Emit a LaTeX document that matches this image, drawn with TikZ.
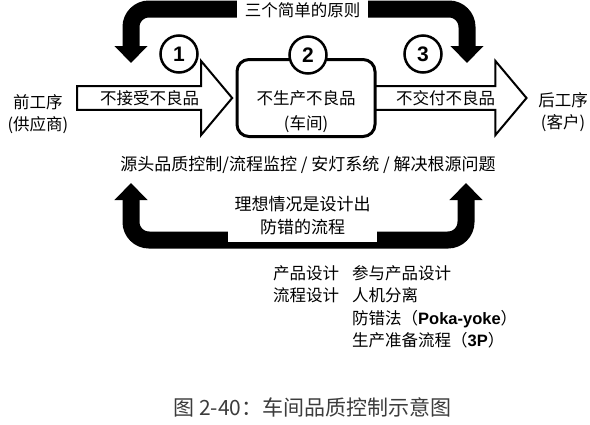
\documentclass[tikz,border=0pt]{standalone}
\usepackage{fontspec}
\setmainfont{Noto Sans CJK SC}
\newfontfamily\arialfont{Liberation Sans}
\usetikzlibrary{shapes.arrows, arrows.meta, positioning, backgrounds}
\definecolor{capgray}{RGB}{60,60,60}

\begin{document}
\begin{tikzpicture}[x=1pt, y=-1pt,
        % styles
        lbl/.style={font=\fontsize{16.5}{22}\selectfont, inner sep=0pt, align=center},
        flowarrow/.style={single arrow, draw, line width=2pt, fill=white,
            minimum width=74pt, single arrow head extend=18.5pt,
            single arrow tip angle=100, inner sep=0pt, lbl},
        numcircle/.style={circle, draw, line width=2.5pt, fill=white,
            minimum size=37pt, inner sep=0pt,
            font=\arialfont\bfseries\fontsize{21}{21}\selectfont},
        shopbox/.style={draw, line width=3pt, rounded corners=12pt, fill=white,
            minimum width=138pt, minimum height=77pt},
        bigarrow/.style={line width=17pt, rounded corners=18pt,
            {Triangle[width=32pt,length=17pt]}-{Triangle[width=32pt,length=17pt]}},
        whitebox/.style={lbl, fill=white},
        listtext/.style={font=\fontsize{16.5}{22.5}\selectfont, inner sep=0pt, align=left}
    ]
    \useasboundingbox (0,0) rectangle (590,424);

    % big black arrows
    \coordinate (topL) at (131,63);
    \coordinate (topR) at (467,63);
    \draw[bigarrow] (topL) -- ++(0,-54) -| (topR);
    \node[whitebox, minimum width=131pt, minimum height=20pt] (principles) at (302.5,10) {三个简单的原则};

    \coordinate (botL) at (131,183);
    \coordinate (botR) at (466,183);
    \draw[bigarrow] (botL) -- ++(0,57) -| (botR);
    \node[whitebox, minimum width=149pt, minimum height=52pt, font=\fontsize{17}{23}\selectfont] (ideal) at (302.5,216) {理想情况是设计出\\防错的流程};

    % flow
    \node[shopbox] (shop) at (306,98) {};
    \node[lbl, font=\fontsize{16.5}{25}\selectfont] (shoptext) at (306,112) {不生产不良品\\(车间)};
    \begin{scope}[on background layer]
        \node[flowarrow, minimum height=155pt, anchor=tip] (reject) at ([xshift=-2pt]shop.west) {不接受不良品};
        \node[flowarrow, minimum height=152pt, anchor=tail] (deliver) at ([xshift=-3pt]shop.east) {不交付不良品};
    \end{scope}

    \node[lbl] (supplier) at (38,114) {前工序\\(供应商)};
    \node[lbl] (customer) at (563,112.5) {后工序\\(客户)};

    % principles
    \node[numcircle] (c1) at (179,54) {1};
    \node[numcircle] (c2) at (308,55) {2};
    \node[numcircle] (c3) at (423,54) {3};

    \node[lbl, font=\fontsize{17}{20}\selectfont] (methods) at (308,165) {源头品质控制/流程监控 / 安灯系统 / 解决根源问题};

    % design list
    \node[listtext, anchor=north west] (keys) at (273,265) {产品设计\\流程设计};
    \node[listtext, anchor=north west] (values) at (352,265) {参与产品设计\\人机分离\\防错法（{\arialfont\bfseries Poka-yoke}）\\生产准备流程（{\arialfont\bfseries 3P}）};

    \node[font=\fontsize{21}{21}\selectfont, text=capgray, inner sep=0pt] (caption) at (312.5,407) {图 2-40：车间品质控制示意图};
\end{tikzpicture}
\end{document}
